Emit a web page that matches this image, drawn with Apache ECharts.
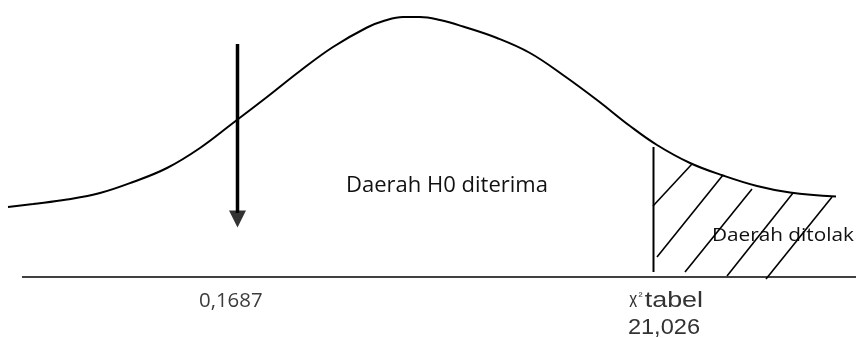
<!DOCTYPE html>
<html><head><meta charset="utf-8">
<script src="https://cdn.jsdelivr.net/npm/echarts@6/dist/echarts.min.js"></script>
<style>html,body{margin:0;padding:0;background:#fff}#c{width:856px;height:338px}</style>
</head><body><div id="c"></div>
<script>
// Curve (diagram units: horizontal 0..856, vertical 0..338 downward)
const curveX = [8, 33, 67, 100, 133, 167, 200, 233, 267, 300, 333, 367, 385, 403, 420, 440, 463, 497, 530, 563, 597, 630, 657, 690, 723, 757, 790, 836];
const curveY = [207, 204, 199.5, 193, 182, 168, 148, 123, 97, 71, 47, 27.5, 20.5, 17, 17, 20, 26.5, 38, 53, 75, 100, 126, 145, 163, 175.5, 186, 192.5, 196.5];
// Horizontal axis line
const baseX = [22, 856];
const baseY = [277, 277];
// Arrow pointing at the computed value
const arrowX = [237.5, 237.5];
const arrowY = [44, 213];
const arrowHeadY = [219];
// Critical value line
const critX = [653.5, 653.5];
const critY = [147, 272];
// Hatching of the rejection region
const hatchX1 = [653, 657, 685, 727, 766];
const hatchY1 = [206, 257, 272, 276, 279];
const hatchX2 = [692, 723, 752, 793, 832];
const hatchY2 = [164, 175, 189, 193, 197];
// Texts
const labelTexts = ['0,1687', 'Daerah H0 diterima', 'Daerah ditolak', 'x', '\u00b2', 'tabel', '21,026'];

// Layout of texts: ink box [left, right, top, baseline], font, colour
const labelLayout = [
  {box: [200, 262, 292, 307], font: 'Open Sans', color: '#3c3c3c'},
  {box: [348, 547, 175, 191.5], font: 'Open Sans', color: '#111'},
  {box: [713, 854, 226.5, 241], font: 'Open Sans', color: '#111'},
  {box: [629.3, 637.5, 295.5, 307], font: 'Liberation Sans', color: '#333'},
  {box: [638.5, 643, 292.5, 300], font: 'Liberation Sans', color: '#333'},
  {box: [644.7, 702, 291, 307], font: 'Liberation Sans', color: '#333'},
  {box: [629, 699, 319, 334], font: 'Liberation Sans', color: '#333'}
];

const chart = echarts.init(document.getElementById('c'), null, {renderer: 'canvas'});
const seg = (xs, ys) => xs.map((x, i) => [x, ys[i]]);
const lineStyleSeries = (data, width) => ({
  type: 'line', data, symbol: 'none', silent: true, animation: false,
  lineStyle: {color: '#000', width}
});
const series = [];
series.push(Object.assign(lineStyleSeries(seg(curveX, curveY), 2), {smooth: 0.4}));
series.push(lineStyleSeries(seg(baseX, baseY), 1.5));
series.push(lineStyleSeries(seg(critX, critY), 2));
series.push(lineStyleSeries(seg(arrowX, arrowY), 3.5));
hatchX1.forEach((x, i) => series.push(lineStyleSeries([[x, hatchY1[i]], [hatchX2[i], hatchY2[i]]], 1.6)));
series.push({
  type: 'scatter', data: [[arrowX[0], arrowHeadY[0]]], symbol: 'triangle', symbolRotate: 180,
  symbolSize: [17, 17], itemStyle: {color: '#000'}, silent: true, animation: false
});

chart.setOption({
  animation: false,
  grid: {left: 0, right: 0, top: 0, bottom: 0},
  xAxis: {type: 'value', min: 0, max: 856, show: false},
  yAxis: {type: 'value', min: 0, max: 338, inverse: true, show: false},
  series
});

// Fit each text into its ink box
const ctx = document.createElement('canvas').getContext('2d');
const graphics = labelTexts.map((t, i) => {
  const L = labelLayout[i];
  const [left, right, top, base] = L.box;
  const p1 = chart.convertToPixel({gridIndex: 0}, [left, top]);
  const p2 = chart.convertToPixel({gridIndex: 0}, [right, base]);
  ctx.textBaseline = 'alphabetic';
  ctx.font = '100px "' + L.font + '"';
  const m = ctx.measureText(t);
  const size = 100 * (p2[1] - p1[1]) / m.actualBoundingBoxAscent;
  ctx.font = size + 'px "' + L.font + '"';
  const m2 = ctx.measureText(t);
  const inkW = m2.actualBoundingBoxLeft + m2.actualBoundingBoxRight;
  const sx = (p2[0] - p1[0]) / inkW;
  ctx.textBaseline = 'middle';
  const mid = ctx.measureText('H');
  ctx.textBaseline = 'alphabetic';
  const al = ctx.measureText('H');
  const off = mid.actualBoundingBoxDescent - al.actualBoundingBoxDescent;
  return {
    type: 'text', silent: true,
    x: p1[0] + m2.actualBoundingBoxLeft * sx, y: p2[1] - off,
    scaleX: sx,
    style: {text: t, fontSize: size, fontFamily: L.font, fill: L.color, align: 'left', verticalAlign: 'middle'}
  };
});
chart.setOption({graphic: graphics});
</script></body></html>
